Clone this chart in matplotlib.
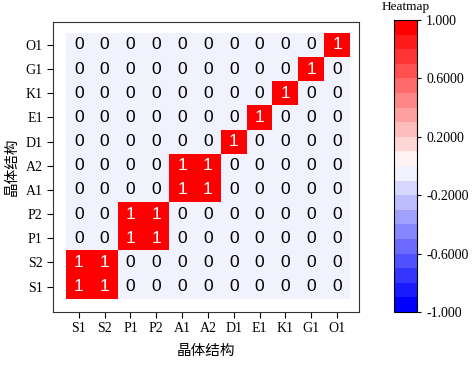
import numpy as np
import matplotlib
matplotlib.use("Agg")
import matplotlib.pyplot as plt
from matplotlib.colors import ListedColormap, BoundaryNorm
from matplotlib.cm import ScalarMappable
from matplotlib.ticker import NullLocator

# ---- data ----
col_labels = ["S1", "S2", "P1", "P2", "A1", "A2", "D1", "E1", "K1", "G1", "O1"]
row_labels = ["S1", "S2", "P1", "P2", "A1", "A2", "D1", "E1", "K1", "G1", "O1"]  # bottom -> top
# values[r][c], r index bottom->top
values = np.array([
    [1, 1, 0, 0, 0, 0, 0, 0, 0, 0, 0],  # S1
    [1, 1, 0, 0, 0, 0, 0, 0, 0, 0, 0],  # S2
    [0, 0, 1, 1, 0, 0, 0, 0, 0, 0, 0],  # P1
    [0, 0, 1, 1, 0, 0, 0, 0, 0, 0, 0],  # P2
    [0, 0, 0, 0, 1, 1, 0, 0, 0, 0, 0],  # A1
    [0, 0, 0, 0, 1, 1, 0, 0, 0, 0, 0],  # A2
    [0, 0, 0, 0, 0, 0, 1, 0, 0, 0, 0],  # D1
    [0, 0, 0, 0, 0, 0, 0, 1, 0, 0, 0],  # E1
    [0, 0, 0, 0, 0, 0, 0, 0, 1, 0, 0],  # K1
    [0, 0, 0, 0, 0, 0, 0, 0, 0, 1, 0],  # G1
    [0, 0, 0, 0, 0, 0, 0, 0, 0, 0, 1],  # O1
])
cbar_ticks = [-1.0, -0.6, -0.2, 0.2, 0.6, 1.0]
cbar_ticklabels = ["-1.000", "-0.6000", "-0.2000", "0.2000", "0.6000", "1.000"]
vmin, vmax, nlev = -1.0, 1.0, 20

serif = ["Liberation Serif", "DejaVu Serif"]
sans = ["Liberation Sans", "DejaVu Sans"]
cjk = ["Noto Sans CJK SC", "DejaVu Sans"]

fig = plt.figure(figsize=(4.72, 3.65), dpi=100)
ax = fig.add_axes([53/472, 1-312/365, (359-53)/472, (312-22)/365])

levels = np.linspace(vmin, vmax, nlev + 1)
cmap = ListedColormap(plt.get_cmap("bwr")(np.linspace(0, 1, nlev)))
step = (vmax - vmin) / nlev
idx = np.clip(np.ceil((values - vmin) / step - 1e-9) - 1, 0, nlev - 1)

nr, nc = values.shape
ax.pcolormesh(np.arange(nc + 1) - 0.5, np.arange(nr + 1) - 0.5, idx,
              cmap=cmap, vmin=-0.5, vmax=nlev - 0.5, shading="flat")
for r in range(nr):
    for c in range(nc):
        v = values[r, c]
        ax.text(c, r, f"{v:g}", ha="center", va="center", fontsize=12.5,
                family=sans, color="white" if v >= 0.5 else "black")

ax.set_xlim(-1.0, 10.85)
ax.set_ylim(-1.05, 10.95)
ax.set_xticks(range(nc))
ax.set_xticklabels(col_labels, family=serif, fontsize=10)
ax.set_yticks(range(nr))
ax.set_yticklabels(row_labels, family=serif, fontsize=10)
ax.tick_params(direction="out", length=4, width=0.8, top=False, right=False)
for s in ax.spines.values():
    s.set_linewidth(0.8)
    s.set_color("#333333")
ax.set_xlabel("晶体结构", family=cjk, fontsize=10.5, labelpad=6)
ax.set_ylabel("晶体结构", family=cjk, fontsize=10.5, labelpad=5)

cax = fig.add_axes([394/472, 1-312/365, 23/472, (312-20)/365])
sm = ScalarMappable(norm=BoundaryNorm(levels, nlev), cmap=cmap)
cb = fig.colorbar(sm, cax=cax, boundaries=levels, drawedges=False)
cb.set_ticks(cbar_ticks)
cb.ax.set_yticklabels(cbar_ticklabels, family=serif, fontsize=10)
cb.ax.yaxis.set_minor_locator(NullLocator())
cb.ax.tick_params(which="major", direction="out", length=3, width=0.8)
cb.ax.tick_params(which="minor", length=0)
cb.outline.set_linewidth(0.8)
cax.set_title("Heatmap", family=serif, fontsize=9.5, pad=7)

fig.savefig("out.png", dpi=100)
